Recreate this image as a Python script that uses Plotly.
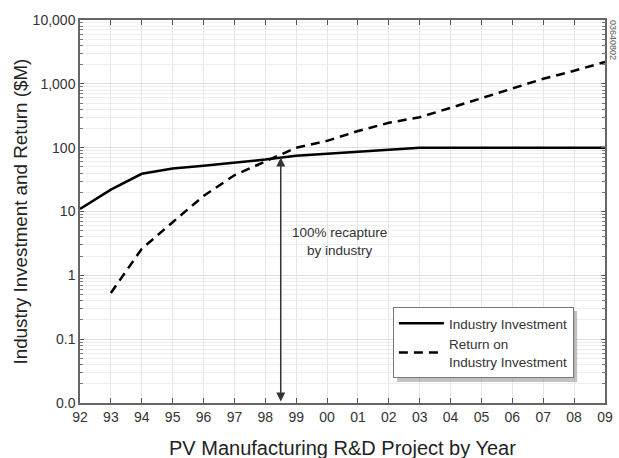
import math
import plotly.graph_objects as go

years = list(range(1992, 2010))
year_labels = ["92", "93", "94", "95", "96", "97", "98", "99", "00", "01",
               "02", "03", "04", "05", "06", "07", "08", "09"]

investment = [11, 22, 39, 47, 52, 58, 65, 75, 81, 87, 93, 100,
              100, 100, 100, 100, 100, 100]

return_years = list(range(1993, 2010))
returns = [0.53, 2.6, 6.8, 17.5, 37, 61, 100, 128, 182, 245, 300,
           420, 600, 850, 1200, 1600, 2200]

ytick_vals = [0.01, 0.1, 1, 10, 100, 1000, 10000]
ytick_text = ["0.0", "0.1", "1", "10", "100", "1,000", "10,000"]

recapture_year = 1998.5
recapture_value = 70

FONT = "Liberation Sans, Arial, sans-serif"

fig = go.Figure()
fig.add_trace(go.Scatter(x=years, y=investment, mode="lines",
                         name="Industry Investment",
                         line=dict(color="black", width=2.5)))
fig.add_trace(go.Scatter(x=return_years, y=returns, mode="lines",
                         name="Return on<br>Industry Investment",
                         line=dict(color="black", width=2.5, dash="9px,6px")))

axis_font = dict(family=FONT, size=14, color="#333")

fig.update_xaxes(range=[1992, 2009], tickvals=years, ticktext=year_labels,
                 showgrid=True, gridcolor="#e6e6e6", gridwidth=1,
                 showline=True, linecolor="#666", linewidth=1.5, mirror="ticks",
                 ticks="inside", ticklen=5, tickcolor="#555",
                 tickfont=axis_font, zeroline=False, automargin=False)
fig.update_yaxes(type="log", range=[-2, 4], tickvals=ytick_vals, ticktext=ytick_text,
                 showgrid=True, gridcolor="#e0e0e0", gridwidth=1,
                 showline=True, linecolor="#666", linewidth=1.5, mirror="ticks",
                 ticks="inside", ticklen=4, tickcolor="#555",
                 tickfont=axis_font, zeroline=False, automargin=False,
                 minor=dict(dtick="D1", showgrid=True, gridcolor="#eeeeee",
                            ticks="inside", ticklen=3, tickcolor="#777"))

# shadow behind legend
fig.add_shape(type="rect", xref="paper", yref="paper",
              x0=0.604, x1=0.947, y0=0.055, y1=0.240,
              fillcolor="rgba(120,120,120,0.45)", line=dict(width=0), layer="above")

fig.add_annotation(x=recapture_year, y=math.log10(recapture_value),
                   ax=recapture_year, ay=-2, xref="x", yref="y",
                   axref="x", ayref="y", text="", showarrow=True,
                   arrowhead=2, arrowside="end+start", arrowsize=1.2,
                   arrowwidth=1.5, arrowcolor="#333")
fig.add_annotation(x=2000.4, y=math.log10(3.4), xref="x", yref="y",
                   text="100% recapture<br>by industry", showarrow=False,
                   font=dict(family=FONT, size=13.5, color="#333"))
fig.add_annotation(x=1.0, y=1.0, xref="paper", yref="paper", xanchor="left",
                   yanchor="top", xshift=1, yshift=2, text="03640802", textangle=90,
                   showarrow=False,
                   font=dict(family=FONT, size=9, color="#555"))
fig.add_annotation(x=0.5, y=0, xref="paper", yref="paper", yanchor="middle",
                   yshift=-45, text="PV Manufacturing R&D Project by Year",
                   showarrow=False,
                   font=dict(family=FONT, size=20, color="#222"))
fig.add_annotation(x=0, y=0.5, xref="paper", yref="paper", xanchor="center",
                   xshift=-60, yshift=0, text="Industry Investment and Return ($M)", textangle=-90,
                   showarrow=False,
                   font=dict(family=FONT, size=18.8, color="#222"))

fig.update_layout(
    width=619, height=458,
    margin=dict(l=80, r=14, t=20, b=55),
    plot_bgcolor="white", paper_bgcolor="white",
    showlegend=True,
    legend=dict(x=0.596, y=0.2507, xanchor="left", yanchor="top",
                bgcolor="white", bordercolor="#777", borderwidth=1,
                font=dict(family=FONT, size=13.5, color="#333"),
                itemwidth=45, tracegroupgap=4),
)

fig.write_html("out.html", config={"displayModeBar": False},
               post_script="document.body.style.margin='0';document.body.style.overflow='hidden';")
